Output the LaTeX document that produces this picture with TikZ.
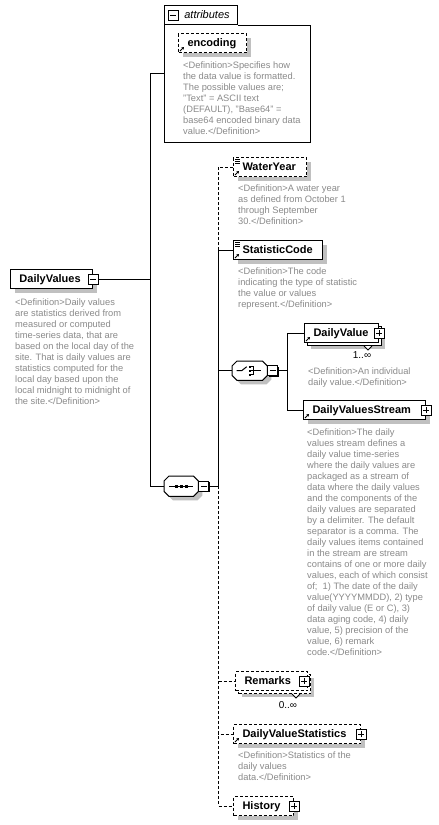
\documentclass[tikz,border=0pt]{standalone}
\usepackage{fontspec}
\setmainfont{Liberation Sans}
\definecolor{defc}{HTML}{8A8A8A}
\definecolor{shadc}{HTML}{C0C0C0}
\usetikzlibrary{arrows.meta,positioning,shadows}
\tikzset{
  conn/.style={line width=1pt},
  opt/.style={dash pattern=on 3pt off 2pt},
  elbox/.style={draw,line width=1pt,fill=white,anchor=north west,minimum height=19pt,inner xsep=9pt,inner ysep=0pt,
    text width=#1,align=left,text height=8.5pt,text depth=1.5pt,font=\bfseries\fontsize{11}{13}\selectfont},
  elem/.style={elbox=#1,general shadow={fill=shadc,shadow xshift=4pt,shadow yshift=-4pt}},
  optelem/.style={elem=#1,opt},
  manyelem/.style={elbox=#1,general shadow={fill=shadc,shadow xshift=6pt,shadow yshift=-6pt},
    general shadow={draw,line width=1pt,fill=white,shadow xshift=3pt,shadow yshift=-3pt}},
  optmanyelem/.style={elbox=#1,opt,general shadow={fill=shadc,shadow xshift=6pt,shadow yshift=-6pt},
    general shadow={draw,opt,line width=1pt,fill=white,shadow xshift=3pt,shadow yshift=-3pt}},
  comp/.style={inner sep=0pt,anchor=north west},
  octo/.style={insert path={([xshift=5pt]#1.north west) -- ([xshift=-5pt]#1.north east) -- ([yshift=-5pt]#1.north east)
    -- ([yshift=5pt]#1.south east) -- ([xshift=-5pt]#1.south east) -- ([xshift=5pt]#1.south west)
    -- ([yshift=5pt]#1.south west) -- ([yshift=-5pt]#1.north west) -- cycle}},
  btn/.style={draw,line width=1pt,fill=white,minimum size=10pt,inner sep=0pt,
    general shadow={fill=black,shadow xshift=1pt,shadow yshift=-1pt}},
  minusb/.style={btn,path picture={\draw[line width=1pt] ([xshift=2pt]path picture bounding box.west) -- ([xshift=-2pt]path picture bounding box.east);}},
  plusb/.style={btn,path picture={\draw[line width=1pt] ([xshift=2pt]path picture bounding box.west) -- ([xshift=-2pt]path picture bounding box.east)
    ([yshift=2pt]path picture bounding box.south) -- ([yshift=-2pt]path picture bounding box.north);}},
  refmark/.pic={\draw[line width=0.9pt,-{Stealth[length=2.5pt,width=3pt]}] (0,0) -- (4,-4);},
  simplemark/.pic={\foreach \k in {0,1,2} \draw[line width=0.8pt] (0,2.3*\k) -- (5,2.3*\k);},
  notch/.pic={\draw[line width=0.8pt,fill=white] (-4,0) -- (0,4) -- (4,0);},
  seqmark/.pic={\draw[line width=1pt] (-12,0) -- (12,0);
    \foreach \d in {-5,0,5} \fill (\d-1.5,-1.5) rectangle (\d+1.5,1.5);},
  choicemark/.pic={\draw[line width=1pt] (-13,0) -- (-8,0) -- (-3,-4);
    \foreach \d in {-4,0,4} \fill (-1,\d-1.2) rectangle (1.4,\d+1.2);
    \draw[line width=0.8pt] (1.4,-4) -- (4,-4) -- (4,4) -- (1.4,4) (1.4,0) -- (11,0);},
}
\begin{document}
\begin{tikzpicture}[x=1pt,y=-1pt,
  defn/.style={font=\fontsize{9.3}{11}\selectfont,text=defc,align=left,anchor=north west,inner sep=0pt},
  mult/.style={font=\fontsize{10}{12}\selectfont,inner sep=0pt}]
  \path[use as bounding box,fill=white] (0,0) rectangle (439,825);
  % root
  \node[elem=64pt] (dv) at (10,269) {DailyValues};
  \node[minusb] (dvBtn) at (dv.east) {};
  \node[defn] (dvDef) at (15,299) {<Definition>Daily values\\are statistics derived from\\measured or computed\\time-series data, that are\\based on the local day of the\\site. That is daily values are\\statistics computed for the\\local day based upon the\\local midnight to midnight of\\the site.</Definition>};
  % attributes
  \node[minimum width=146pt,minimum height=137pt,anchor=north west,inner sep=0pt] (attrs) at (164,5) {};
  \node[draw,line width=1pt,anchor=north west,minimum width=73pt,minimum height=19pt,inner sep=0pt,
    font=\itshape\fontsize{11}{13}\selectfont] (attrTab) at (164,5) {\hspace*{12pt}attributes};
  \draw[conn] (attrTab.south east) -| (attrs.south east) -| (attrTab.south west);
  \node[minusb] (attrBtn) at ([xshift=9pt]attrTab.west) {};
  \node[optelem=50pt] (enc) at (178,33) {encoding};
  \pic at ([shift={(2,-2)}]enc.south west) {refmark};
  \node[defn] (encDef) at (183,62) {<Definition>Specifies how\\the data value is formatted.\\The possible values are;\\"Text" = ASCII text\\(DEFAULT), "Base64" =\\base64 encoded binary data\\value.</Definition>};
  % sequence
  \node[comp,minimum width=34pt,minimum height=20pt] (seq) at (164,476) {};
  \fill[shadc,transform canvas={shift={(4pt,-4pt)}},octo=seq];
  \draw[conn,fill=white,octo=seq];
  \pic at (seq.center) {seqmark};
  \node[minusb,anchor=west] (seqBtn) at (seq.east) {};
  \node[optelem=55pt] (waterYear) at (233,157) {WaterYear};
  \pic at ([shift={(2,2)}]waterYear.north west) {simplemark};
  \pic at ([shift={(2,-2)}]waterYear.south west) {refmark};
  \node[defn] (wyDef) at (238,185) {<Definition>A water year\\as defined from October 1\\through September\\30.</Definition>};
  \node[elem=71pt] (statCode) at (233,240) {StatisticCode};
  \pic at ([shift={(2,2)}]statCode.north west) {simplemark};
  \pic at ([shift={(2,-2)}]statCode.south west) {refmark};
  \node[defn] (scDef) at (238,268) {<Definition>The code\\indicating the type of statistic\\the value or values\\represent.</Definition>};
  % choice
  \node[comp,minimum width=35pt,minimum height=19pt] (choice) at (232,361) {};
  \fill[shadc,transform canvas={shift={(4pt,-4pt)}},octo=choice];
  \draw[conn,fill=white,octo=choice];
  \pic at (choice.center) {choicemark};
  \node[minusb,anchor=west] (choiceBtn) at (choice.east) {};
  \node[manyelem=56pt] (dailyValue) at (304,323) {DailyValue};
  \pic at ([shift={(-11,3)}]dailyValue.south east) {notch};
  \node[plusb] (dvalBtn) at (dailyValue.east) {};
  \pic at ([shift={(2,-2)}]dailyValue.south west) {refmark};
  \node[mult] (dvMult) at (362,355) {1..∞};
  \node[defn] (dvalDef) at (308,368) {<Definition>An individual\\daily value.</Definition>};
  \node[elem=104pt] (dvStream) at (303,400) {DailyValuesStream};
  \node[plusb] (dvsBtn) at (dvStream.east) {};
  \pic at ([shift={(2,-2)}]dvStream.south west) {refmark};
  \node[defn] (dvsDef) at (307,429) {<Definition>The daily\\values stream defines a\\daily value time-series\\where the daily values are\\packaged as a stream of\\data where the daily values\\and the components of the\\daily values are separated\\by a delimiter. The default\\separator is a comma. The\\daily values items contained\\in the stream are stream\\contains of one or more daily\\values, each of which consist\\of;\ \ 1) The date of the daily\\value(YYYYMMDD), 2) type\\of daily value (E or C), 3)\\data aging code, 4) daily\\value, 5) precision of the\\value, 6) remark\\code.</Definition>};
  % optional tail
  \node[optmanyelem=54pt] (remarks) at (235,671) {Remarks};
  \pic at ([shift={(-12,3)}]remarks.south east) {notch};
  \node[plusb] (remBtn) at ([xshift=-4pt]remarks.east) {};
  \node[mult] (remMult) at (288,705) {0..∞};
  \node[optelem=109pt] (dvStats) at (233,724) {DailyValueStatistics};
  \node[plusb] (dstBtn) at (dvStats.east) {};
  \pic at ([shift={(2,-2)}]dvStats.south west) {refmark};
  \node[defn] (dstDef) at (238,752) {<Definition>Statistics of the\\daily values\\data.</Definition>};
  \node[optelem=42pt] (history) at (233,796) {History};
  \node[plusb] (histBtn) at (history.east) {};
  % connectors
  \coordinate (busA) at ([xshift=52pt]dvBtn.east);
  \coordinate (busB) at ([xshift=9pt]seqBtn.east);
  \coordinate (busC) at ([xshift=9pt]choiceBtn.east);
  \draw[conn] (attrs.west) -| (busA) |- (seq.west);
  \draw[conn] (dvBtn.east) -- (busA);
  \draw[conn] (seqBtn.east) -- (busB);
  \draw[conn] (busB) |- (statCode.west);
  \draw[conn,opt] (busB |- statCode.west) |- (waterYear.west);
  \draw[conn] (busB) |- (choice.west);
  \draw[conn,opt] (busB) |- (history.west);
  \draw[conn,opt] (busB) |- (remarks.west);
  \draw[conn,opt] (busB) |- (dvStats.west);
  \draw[conn] (choiceBtn.east) -- (busC);
  \draw[conn] (busC) |- (dailyValue.west);
  \draw[conn] (busC) |- (dvStream.west);
\end{tikzpicture}
\end{document}
